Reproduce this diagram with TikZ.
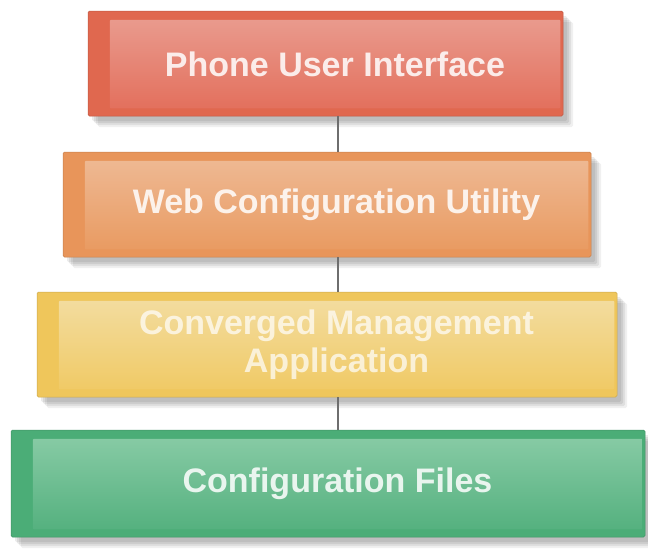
\documentclass[tikz,border=0pt]{standalone}
\usepackage{fontspec}
\setmainfont{Liberation Sans}
\usetikzlibrary{calc,shadows}
\definecolor{redO}{HTML}{E0684F}
\definecolor{redT}{HTML}{E99A8D}
\definecolor{redB}{HTML}{E3705D}
\definecolor{orgO}{HTML}{E8955A}
\definecolor{orgT}{HTML}{EEB892}
\definecolor{orgB}{HTML}{E99B62}
\definecolor{yelO}{HTML}{EFC65B}
\definecolor{yelT}{HTML}{F3DC9E}
\definecolor{yelB}{HTML}{F0CA66}
\definecolor{grnO}{HTML}{4BAD77}
\definecolor{grnT}{HTML}{86CAA4}
\definecolor{grnB}{HTML}{55B17F}
\definecolor{connC}{HTML}{6E6E6E}
\tikzset{
  softshadow/.style={
    general shadow={fill=black,opacity=0.08,shadow xshift=4pt,shadow yshift=-5pt,rounded corners=3pt},
    general shadow={fill=black,opacity=0.08,shadow xshift=6pt,shadow yshift=-7pt,rounded corners=4pt},
    general shadow={fill=black,opacity=0.07,shadow xshift=8pt,shadow yshift=-9pt,rounded corners=5pt},
    general shadow={fill=black,opacity=0.06,shadow xshift=10pt,shadow yshift=-11pt,rounded corners=6pt}},
  layerbox/.style={softshadow,draw=#1!85!black,line width=0.5pt,fill=#1,rounded corners=1.5pt,inner sep=0pt},
  lbl/.style={text=white,text opacity=0.85,font=\bfseries\fontsize{34}{38}\selectfont,align=center,inner sep=0pt},
  conn/.style={draw=connC,line width=1.6pt}
}
\begin{document}
\begin{tikzpicture}[x=1pt,y=-1pt]
\useasboundingbox (0,0) rectangle (648,552);
\coordinate (lx) at (338,0);
% box 1
\node[layerbox=redO,minimum width=475pt,minimum height=105pt] (b1) at (325.5,63.5) {};
\shade[top color=redT,bottom color=redB,rounded corners=1pt] ($(b1.north west)+(22,9)$) rectangle ($(b1.south east)+(-3,-8)$);
\node[lbl] (t1) at ($(b1.center)+(9.5,0.5)$) {Phone User Interface};
% box 2
\node[layerbox=orgO,minimum width=528pt,minimum height=105pt] (b2) at (327,204.5) {};
\shade[top color=orgT,bottom color=orgB,rounded corners=1pt] ($(b2.north west)+(22,9)$) rectangle ($(b2.south east)+(-3,-8)$);
\node[lbl] (t2) at ($(b2.center)+(9.5,0.5)$) {Web Configuration Utility};
% box 3
\node[layerbox=yelO,minimum width=580pt,minimum height=105pt] (b3) at (327,344.5) {};
\shade[top color=yelT,bottom color=yelB,rounded corners=1pt] ($(b3.north west)+(22,9)$) rectangle ($(b3.south east)+(-3,-8)$);
\node[lbl,text opacity=0.7] (t3) at ($(b3.center)+(9.5,0.5)$) {Converged Management\\Application};
% box 4
\node[layerbox=grnO,minimum width=634pt,minimum height=107pt] (b4) at (328,483.5) {};
\shade[top color=grnT,bottom color=grnB,rounded corners=1pt] ($(b4.north west)+(22,9)$) rectangle ($(b4.south east)+(-3,-8)$);
\node[lbl] (t4) at ($(b4.center)+(9.5,0.5)$) {Configuration Files};
% connectors
\draw[conn] (b1.south -| lx) -- (b2.north -| lx);
\draw[conn] (b2.south -| lx) -- (b3.north -| lx);
\draw[conn] (b3.south -| lx) -- (b4.north -| lx);
\end{tikzpicture}
\end{document}
